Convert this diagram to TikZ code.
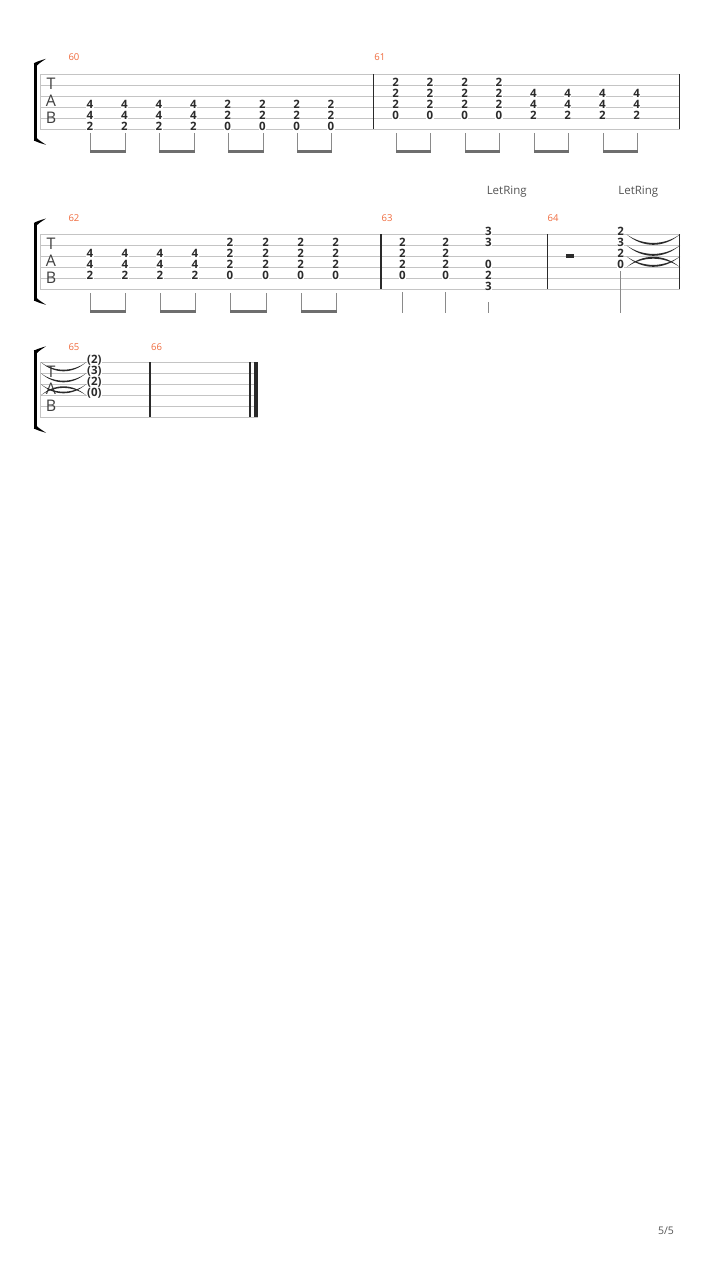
\documentclass[tikz,border=0pt]{standalone}
\usepackage{fontspec}
\setmainfont{Open Sans}
\definecolor{staffc}{HTML}{C4C4C4}
\definecolor{fretc}{HTML}{2B2B2B}
\definecolor{numc}{HTML}{F06A3C}
\definecolor{stemc}{HTML}{8A8A8A}
\definecolor{beamc}{HTML}{6E6E6E}
\definecolor{tabc}{HTML}{404040}
\definecolor{txtc}{HTML}{555555}
\definecolor{barc}{HTML}{2A2A2A}
\tikzset{
  staffline/.style={draw=staffc,line width=0.8pt},
  barline/.style={draw=barc,line width=1.2pt},
  fret/.style={font=\fontsize{11.5}{13}\selectfont\bfseries,text=fretc,fill=white,inner xsep=0.3pt,inner ysep=0.5pt,anchor=base},
  mnum/.style={font=\fontsize{9.5}{11}\selectfont,text=numc,anchor=west,inner sep=0pt},
  tablet/.style={font=\fontsize{16}{16}\selectfont,text=tabc,inner sep=0pt},
  ringtxt/.style={font=\fontsize{11.5}{13}\selectfont,text=txtc,inner sep=0pt},
  stemline/.style={draw=stemc,line width=1pt},
  tiefill/.style={fill=fretc},
}
% staff: #1 first line y, #2 x start, #3 x end
\newcommand\mystaff[3]{%
  \foreach \i in {0,...,5} {\draw[staffline] (#2,{#1+11*\i}) -- (#3,{#1+11*\i});}
  \draw[staffline] (#2,#1) -- (#2,{#1+55});
}
% bracket: #1 top y, #2 bottom y
\newcommand\mybracket[2]{%
  \fill[black] (33.8,{#1+1}) rectangle (37.2,{#2-1});
  \fill[black] (33.8,{#1+1.5}) .. controls (36,#1) and (41,{#1-1.5}) .. (46,{#1-3})
     .. controls (42,{#1-0.3}) and (39,{#1+1.5}) .. (37.2,{#1+3.5}) -- cycle;
  \fill[black] (33.8,{#2-1.5}) .. controls (36,#2) and (41,{#2+1.5}) .. (46,{#2+3})
     .. controls (42,{#2+0.3}) and (39,{#2-1.5}) .. (37.2,{#2-3.5}) -- cycle;
}
% TAB letters: #1 prefix, #2 first line y
\newcommand\tableters[2]{%
  \node[tablet] (#1T) at (51,{#2+9}) {T};
  \node[tablet] (#1A) at (51,{#2+26.4}) {A};
  \node[tablet] (#1B) at (51,{#2+43.7}) {B};
}
% chord: #1 name prefix, #2 x, #3 first line y, #4 list string/fret
\newcommand\chordat[4]{%
  \foreach \s/\f in {#4} {\node[fret] (#1s\s) at (#2,{#3+11*(\s-1)+1.0}) {\f};}
}
% stem: #1 name, #2 x, #3 y top, #4 y bottom
\newcommand\stemat[4]{%
  \coordinate (#1t) at ({#2+0.8},#3);
  \coordinate (#1b) at ({#2+0.8},#4);
  \draw[stemline] (#1t) -- (#1b);
}
% beam between stems #1 and #2
\newcommand\beamof[2]{%
  \fill[beamc] ([xshift=-0.5pt,yshift=3pt]#1b) rectangle ([xshift=0.5pt]#2b);
}
% tie crescent: #1 x0, #2 x1, #3 y, #4 signed control offset
\newcommand\tiecurve[4]{%
  \fill[tiefill] (#1,#3) .. controls ({#1+(#2-#1)*0.3},{#3+#4}) and ({#1+(#2-#1)*0.7},{#3+#4}) .. (#2,#3)
     .. controls ({#1+(#2-#1)*0.7},{#3+0.82*#4}) and ({#1+(#2-#1)*0.3},{#3+0.82*#4}) .. (#1,#3) -- cycle;
}
\begin{document}
\begin{tikzpicture}[x=1pt,y=-1pt]
\useasboundingbox (0,0) rectangle (720,1280);
\fill[white] (0,0) rectangle (720,1280);

% ================= System 1 =================
\def\La{74.3}
\mystaff{\La}{40}{680}
\mybracket{61.8}{141.8}
\tableters{sa}{\La}
\draw[barline] (373.3,\La) -- (373.3,{\La+55});
\draw[barline] (679.5,\La) -- (679.5,{\La+55});
\node[mnum] (m60) at (68.3,57.3) {60};
\node[mnum] (m61) at (374.2,57.3) {61};
% measure 60
\foreach \x [count=\k] in {90,124.3,159,193.3} {\chordat{a\k}{\x}{\La}{4/4,5/4,6/2}}
\foreach \x [count=\k from 5] in {227.7,262.3,296.7,331} {\chordat{a\k}{\x}{\La}{4/2,5/2,6/0}}
\foreach \x [count=\k] in {90,124.3,159,193.3,227.7,262.3,296.7,331} {\stemat{sa\k}{\x}{133}{152.5}}
\beamof{sa1}{sa2}\beamof{sa3}{sa4}\beamof{sa5}{sa6}\beamof{sa7}{sa8}
% measure 61
\foreach \x [count=\k] in {395.7,430,464.7,499} {\chordat{b\k}{\x}{\La}{2/2,3/2,4/2,5/0}}
\foreach \x [count=\k from 5] in {533.3,567.7,602.3,636.7} {\chordat{b\k}{\x}{\La}{3/4,4/4,5/2}}
\foreach \x [count=\k] in {395.7,430,464.7,499,533.3,567.7,602.3,636.7} {\stemat{sb\k}{\x}{133}{152.5}}
\beamof{sb1}{sb2}\beamof{sb3}{sb4}\beamof{sb5}{sb6}\beamof{sb7}{sb8}

% ================= System 2 =================
\def\Lb{234.3}
\mystaff{\Lb}{40}{680}
\mybracket{221.5}{301.8}
\tableters{sb}{\Lb}
\draw[barline] (381,\Lb) -- (381,{\Lb+55});
\draw[barline] (547.3,\Lb) -- (547.3,{\Lb+55});
\draw[barline] (679.5,\Lb) -- (679.5,{\Lb+55});
\node[mnum] (m62) at (68.3,218.3) {62};
\node[mnum] (m63) at (381.5,218.3) {63};
\node[mnum] (m64) at (547.5,218.3) {64};
\node[ringtxt] (lr1) at (506.7,191.7) {LetRing};
\node[ringtxt] (lr2) at (638.3,191.7) {LetRing};
% measure 62
\foreach \x [count=\k] in {90,125,160,195} {\chordat{c\k}{\x}{\Lb}{3/4,4/4,5/2}}
\foreach \x [count=\k from 5] in {230,265.7,300.7,335.7} {\chordat{c\k}{\x}{\Lb}{2/2,3/2,4/2,5/0}}
\foreach \x [count=\k] in {90,125,160,195,230,265.7,300.7,335.7} {\stemat{sc\k}{\x}{293}{312.5}}
\beamof{sc1}{sc2}\beamof{sc3}{sc4}\beamof{sc5}{sc6}\beamof{sc7}{sc8}
% measure 63
\chordat{d1}{402.3}{\Lb}{2/2,3/2,4/2,5/0}
\chordat{d2}{445.7}{\Lb}{2/2,3/2,4/2,5/0}
\chordat{d3}{488.3}{\Lb}{1/3,2/3,4/0,5/2,6/3}
\stemat{sd1}{401.5}{292}{312.5}
\stemat{sd2}{444.9}{292}{312.5}
\stemat{sd3}{488}{302}{312.5}
% measure 64
\fill[fretc] (565.8,253.8) rectangle (574.4,257.8);
\chordat{e1}{620.7}{\Lb}{1/2,2/3,3/2,4/0}
\stemat{se1}{620}{271}{312.5}
\tiecurve{626.5}{680}{\Lb}{14}
\tiecurve{626.5}{680}{\Lb+11}{14}
\tiecurve{626.5}{680}{\Lb+22}{14}
\tiecurve{626.5}{680}{\Lb+33}{-14}

% ================= System 3 =================
\def\Lc{362.3}
\mystaff{\Lc}{40}{257.7}
\mybracket{349.3}{429.8}
\tableters{sc}{\Lc}
\draw[barline] (150,\Lc) -- (150,{\Lc+55});
\draw[barline] (250,\Lc) -- (250,{\Lc+55});
\fill[barc] (254.4,\Lc) rectangle (257.8,{\Lc+55});
\node[mnum] (m65) at (68.3,346.7) {65};
\node[mnum] (m66) at (151,346.7) {66};
\tiecurve{41}{86}{\Lc}{12}
\tiecurve{41}{86}{\Lc+11}{12}
\tiecurve{41}{86}{\Lc+22}{12}
\tiecurve{41}{86}{\Lc+33}{-12}
\chordat{f1}{94.3}{\Lc}{1/(2),2/(3),3/(2),4/(0)}

% page number
\node[font=\fontsize{10.5}{12}\selectfont,text=txtc,inner sep=0pt] (pg) at (666,1230.5) {5/5};
\end{tikzpicture}
\end{document}
